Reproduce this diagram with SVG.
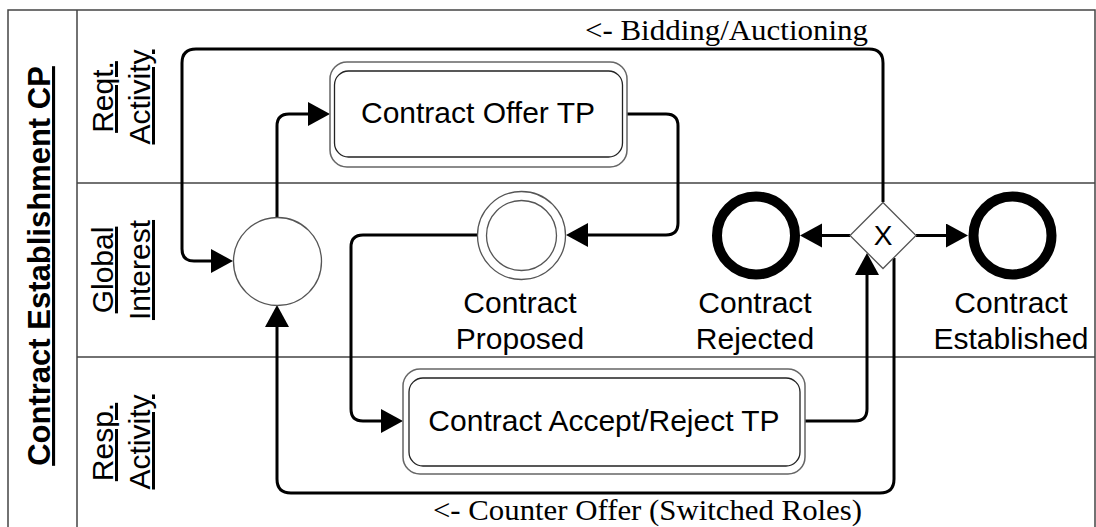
<svg xmlns="http://www.w3.org/2000/svg" width="1096" height="527" viewBox="0 0 1096 527">
<style>
.frame{fill:none;stroke:#444;stroke-width:1.5}
.lbl{font-family:"Liberation Sans",Arial,sans-serif;font-size:30px;fill:#000;text-anchor:middle}
.lane{font-family:"Liberation Sans",Arial,sans-serif;font-size:30px;fill:#000;text-anchor:middle;text-decoration:underline}
.pool{font-family:"Liberation Sans",Arial,sans-serif;font-size:31px;font-weight:bold;fill:#000;text-anchor:middle;text-decoration:underline}
.ser{font-family:"Liberation Serif","Times New Roman",serif;font-size:30px;fill:#000}
.conn{fill:none;stroke:#000;stroke-width:3}
.outer{fill:#fff;stroke:#666;stroke-width:1.5}
.inner{fill:#fff;stroke:#222;stroke-width:1.3}
.thin{fill:#fff;stroke:#555;stroke-width:1.3}
.end{fill:#fff;stroke:#000;stroke-width:10}
</style>
<defs>
<marker id="arr" markerUnits="userSpaceOnUse" markerWidth="24" markerHeight="26" refX="10" refY="12" orient="auto">
<path d="M0,0 L22,12 L0,24 z" fill="#000"/>
</marker>
</defs>
<rect width="1096" height="527" fill="#fff"/>
<g id="pool">
<path class="frame" d="M8,540 V10 H1095 V540 M77,10 V540 M77,183 H1095 M77,357 H1095"/>
<text class="pool" transform="translate(50,266) rotate(-90)">Contract Establishment CP</text>
</g>
<g id="lane-reqt">
<text class="lane" transform="translate(113,97) rotate(-90)">Reqt.</text>
<text class="lane" transform="translate(150,97) rotate(-90)">Activity</text>
</g>
<g id="lane-global">
<text class="lane" transform="translate(113,270) rotate(-90)">Global</text>
<text class="lane" transform="translate(150,270) rotate(-90)">Interest</text>
</g>
<g id="lane-resp">
<text class="lane" transform="translate(113,442) rotate(-90)">Resp.</text>
<text class="lane" transform="translate(150,442) rotate(-90)">Activity</text>
</g>
<g id="connectors">
<path class="conn" d="M883,202 V63 Q883,49 869,49 H196 Q182,49 182,63 V249 Q182,261 194,261 H221" marker-end="url(#arr)"/>
<path class="conn" d="M277,218 V126 Q277,114 289,114 H318" marker-end="url(#arr)"/>
<path class="conn" d="M627,114 H666 Q678,114 678,126 V223 Q678,235 666,235 H578" marker-end="url(#arr)"/>
<path class="conn" d="M477,235 H363 Q351,235 351,247 V409 Q351,421 363,421 H391" marker-end="url(#arr)"/>
<path class="conn" d="M805,421 H855 Q867,421 867,409 V265" marker-end="url(#arr)"/>
<path class="conn" d="M894,258 V479 Q894,493 880,493 H291 Q277,493 277,479 V317" marker-end="url(#arr)"/>
<path class="conn" d="M850,235.5 H812" marker-end="url(#arr)"/>
<path class="conn" d="M916,235.5 H956" marker-end="url(#arr)"/>
<text class="ser" x="585" y="40" textLength="283" lengthAdjust="spacingAndGlyphs">&lt;- Bidding/Auctioning</text>
<text class="ser" x="433" y="520" textLength="429" lengthAdjust="spacingAndGlyphs">&lt;- Counter Offer (Switched Roles)</text>
</g>
<g id="start">
<circle class="thin" cx="277.5" cy="261.5" r="44"/>
</g>
<g id="offer">
<rect class="outer" x="330" y="62" width="297" height="105" rx="17"/>
<rect class="inner" x="334.5" y="71" width="288" height="86" rx="14"/>
<text class="lbl" x="478" y="123">Contract Offer TP</text>
</g>
<g id="proposed">
<circle class="thin" cx="521.5" cy="235.5" r="44"/>
<circle class="thin" cx="521.5" cy="235.5" r="35"/>
<text class="lbl" x="520" y="313">Contract</text>
<text class="lbl" x="520" y="349">Proposed</text>
</g>
<g id="accept">
<rect class="outer" x="403" y="369" width="402" height="105" rx="17"/>
<rect class="inner" x="409" y="378" width="391" height="88" rx="14"/>
<text class="lbl" x="604" y="431">Contract Accept/Reject TP</text>
</g>
<g id="gateway">
<path class="thin" d="M883,202.5 L916,235.5 L883,268.5 L850,235.5 z"/>
<text class="lbl" x="883" y="245" style="font-size:28px">X</text>
</g>
<g id="rejected">
<circle class="end" cx="756" cy="235.5" r="39"/>
<text class="lbl" x="755" y="313">Contract</text>
<text class="lbl" x="755" y="349">Rejected</text>
</g>
<g id="established">
<circle class="end" cx="1012.5" cy="235.5" r="39"/>
<text class="lbl" x="1011" y="313">Contract</text>
<text class="lbl" x="1011" y="349">Established</text>
</g>
</svg>
